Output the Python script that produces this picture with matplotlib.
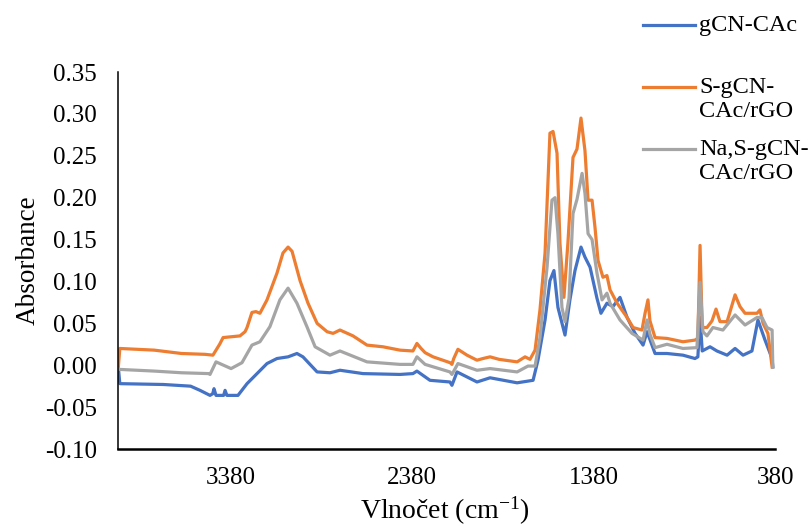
import matplotlib
matplotlib.use("Agg")
import matplotlib.pyplot as plt
from matplotlib.lines import Line2D

plt.rcParams['font.family'] = ['Liberation Serif', 'DejaVu Serif']
plt.rcParams['mathtext.fontset'] = 'custom'
plt.rcParams['mathtext.rm'] = 'Liberation Serif'
plt.rcParams['mathtext.it'] = 'Liberation Serif:italic'
plt.rcParams['mathtext.bf'] = 'Liberation Serif:bold'

# ---- data (wavenumber cm-1, absorbance) ----
wn_blue = [3998, 3990, 3750, 3600, 3548, 3493, 3478, 3471, 3460, 3438, 3418, 3410, 3400,
           3339, 3289, 3234, 3179, 3124, 3063, 3014, 2981, 2903, 2832, 2777, 2650, 2446,
           2375, 2353, 2281, 2171, 2160, 2132, 2022, 1950, 1801, 1713, 1686, 1647, 1620,
           1598, 1576, 1537, 1510, 1482, 1449, 1427, 1399, 1361, 1339, 1306, 1273, 1234,
           1195, 1151, 1107, 1085, 1041, 975, 887, 821, 805, 793, 781, 738, 700, 644, 600,
           556, 507, 474, 435, 396, 392]
abs_blue = [-0.003, -0.022, -0.023, -0.025, -0.030, -0.036, -0.034, -0.028, -0.036, -0.036,
            -0.036, -0.030, -0.036, -0.036, -0.022, -0.010, 0.002, 0.008, 0.010, 0.014,
            0.010, -0.008, -0.009, -0.006, -0.010, -0.011, -0.010, -0.007, -0.018, -0.020,
            -0.024, -0.008, -0.020, -0.015, -0.021, -0.018, 0.006, 0.054, 0.101, 0.113,
            0.069, 0.036, 0.078, 0.113, 0.141, 0.129, 0.117, 0.080, 0.062, 0.074, 0.070,
            0.081, 0.057, 0.038, 0.024, 0.040, 0.014, 0.014, 0.012, 0.008, 0.010, 0.057,
            0.017, 0.022, 0.017, 0.012, 0.020, 0.012, 0.017, 0.054, 0.030, 0.008, -0.002]

wn_orange = [3998, 3990, 3800, 3650, 3520, 3477, 3440, 3421, 3328, 3300, 3289, 3262, 3240,
             3218, 3179, 3124, 3091, 3063, 3041, 2997, 2953, 2903, 2848, 2815, 2777, 2705,
             2628, 2540, 2446, 2375, 2353, 2330, 2308, 2264, 2170, 2160, 2150, 2127, 2077,
             2022, 1989, 1950, 1900, 1801, 1757, 1730, 1702, 1675, 1647, 1620, 1603, 1581,
             1565, 1543, 1521, 1493, 1471, 1449, 1427, 1410, 1388, 1372, 1355, 1328, 1306,
             1289, 1250, 1195, 1162, 1113, 1096, 1080, 1069, 1041, 975, 887, 821, 805, 793,
             781, 755, 727, 705, 683, 644, 600, 573, 545, 479, 463, 446, 419, 396]
abs_orange = [-0.002, 0.020, 0.018, 0.014, 0.013, 0.012, 0.025, 0.033, 0.035, 0.040, 0.045,
              0.063, 0.064, 0.062, 0.078, 0.110, 0.134, 0.141, 0.136, 0.101, 0.074, 0.050,
              0.040, 0.038, 0.042, 0.035, 0.024, 0.022, 0.018, 0.017, 0.026, 0.020, 0.015,
              0.010, 0.003, 0.001, 0.008, 0.019, 0.012, 0.006, 0.008, 0.010, 0.007, 0.004,
              0.010, 0.007, 0.018, 0.066, 0.134, 0.277, 0.279, 0.253, 0.146, 0.081, 0.146,
              0.248, 0.258, 0.295, 0.256, 0.197, 0.197, 0.165, 0.125, 0.105, 0.107, 0.090,
              0.074, 0.057, 0.045, 0.042, 0.062, 0.078, 0.053, 0.033, 0.032, 0.028, 0.030,
              0.032, 0.143, 0.045, 0.045, 0.053, 0.067, 0.052, 0.052, 0.084, 0.070, 0.062,
              0.062, 0.066, 0.050, 0.038, -0.002]

wn_gray = [3998, 3990, 3800, 3650, 3500, 3493, 3460, 3377, 3317, 3262, 3218, 3163, 3108,
           3063, 3014, 2959, 2914, 2832, 2777, 2628, 2446, 2375, 2353, 2308, 2171, 2160,
           2127, 2022, 1950, 1801, 1741, 1702, 1675, 1636, 1609, 1592, 1576, 1554, 1537,
           1515, 1493, 1471, 1443, 1427, 1410, 1388, 1361, 1333, 1306, 1289, 1234, 1168,
           1107, 1085, 1069, 1041, 975, 887, 810, 793, 777, 755, 722, 667, 600, 545, 479,
           452, 424, 396, 392]
abs_gray = [-0.004, -0.005, -0.007, -0.009, -0.010, -0.011, 0.004, -0.004, 0.003, 0.024,
            0.028, 0.046, 0.078, 0.092, 0.074, 0.046, 0.022, 0.012, 0.017, 0.004, 0.001,
            0.001, 0.010, 0.001, -0.008, -0.011, 0.002, -0.006, -0.004, -0.008, -0.001,
            -0.001, 0.033, 0.117, 0.197, 0.200, 0.157, 0.069, 0.052, 0.080, 0.181, 0.198,
            0.229, 0.205, 0.157, 0.150, 0.110, 0.078, 0.086, 0.074, 0.054, 0.038, 0.030,
            0.054, 0.037, 0.021, 0.025, 0.020, 0.021, 0.099, 0.040, 0.035, 0.045, 0.042,
            0.060, 0.048, 0.057, 0.057, 0.045, 0.042, -0.002]

labels = ["gCN-CAc", "S-gCN-\nCAc/rGO", "Na,S-gCN-\nCAc/rGO"]
colors = ["#4472C4", "#ED7D31", "#A5A5A5"]
xticks = [3380, 2380, 1380, 380]
yticks = [-0.10, -0.05, 0.00, 0.05, 0.10, 0.15, 0.20, 0.25, 0.30, 0.35]

W, H = 811, 526
fig = plt.figure(figsize=(W / 100, H / 100), dpi=100)
ax = fig.add_axes([118 / W, 1 - 449 / H, (775 - 118) / W, (449 - 72) / H])

series = [(wn_blue, abs_blue), (wn_orange, abs_orange), (wn_gray, abs_gray)]
for (x, y), c in zip(series, colors):
    ax.plot(x, y, color=c, lw=2.3, solid_joinstyle='round')

ax.set_xlim(4000, 380)
ax.set_ylim(-0.10, 0.35)
ax.set_xticks(xticks)
ax.set_xticklabels([str(t) for t in xticks])
ax.set_yticks(yticks)
ax.set_yticklabels([f"{t:.2f}" for t in yticks])
ax.tick_params(axis='both', length=0, labelsize=18)
ax.tick_params(axis='y', pad=15)
ax.tick_params(axis='x', pad=13)
for s in ['top', 'right']:
    ax.spines[s].set_visible(False)
ax.spines['bottom'].set_linewidth(1.8)
ax.spines['left'].set_linewidth(1.1)

ax.set_ylabel("Absorbance", fontsize=19.5)
ax.yaxis.label.set_va('center')
ax.yaxis.set_label_coords((28 - 118) / 657, 0.5)
ax.set_xlabel("Vlnočet (cm$^{\\mathrm{-1}}$)", fontsize=20)
ax.xaxis.label.set_va('baseline')
ax.xaxis.set_label_coords((445 - 118) / 657, (449 - 519) / 377)

# legend (outside plot, top right)
leg_y = [25, 87, 149]
for yy, c, lab in zip(leg_y, colors, labels):
    fig.add_artist(Line2D([643 / W, 695 / W], [1 - yy / H, 1 - yy / H], color=c, lw=2.3,
                          transform=fig.transFigure))
    fig.text(699 / W, 1 - (yy - 10) / H, lab, fontsize=17.5, va='top', ha='left',
             linespacing=1.2)

fig.savefig("out.png", dpi=100)
